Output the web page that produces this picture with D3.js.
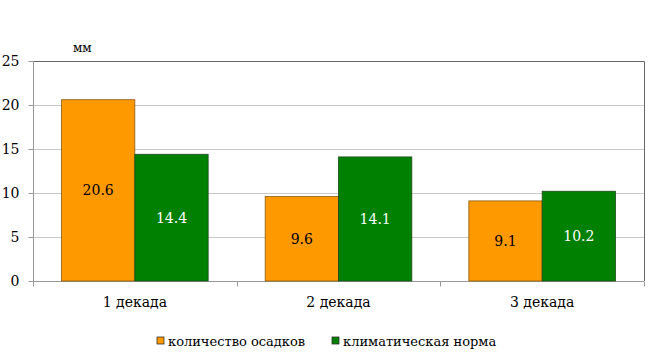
<!DOCTYPE html>
<html>
<head>
<meta charset="utf-8">
<script src="https://cdn.jsdelivr.net/npm/d3@7"></script>
<style>
body { margin: 0; background: #fff; }
</style>
</head>
<body>
<div id="chart"></div>
<script>
var categories = ["1 декада", "2 декада", "3 декада"];
var series_names = ["количество осадков", "климатическая норма"];
var precip = [20.6, 9.6, 9.1];
var norm = [14.4, 14.1, 10.2];
var y_ticks = [0, 5, 10, 15, 20, 25];
var colors = ["#FF9900", "#008000"];
var strokes = ["#8a5a10", "#1c4a1c"];
var label_colors = ["#000", "#fff"];

var width = 649, height = 364;
var plot_left = 33, plot_right = 644, plot_top = 61, plot_bottom = 281;
var serif = "DejaVu Serif";

var svg = d3.select("#chart").append("svg")
    .attr("width", width)
    .attr("height", height)
    .attr("font-family", serif);

var x = d3.scaleBand().domain(categories).range([plot_left, plot_right]).padding(0);
var y = d3.scaleLinear().domain([0, 25]).range([plot_bottom, plot_top]);

// grid lines
svg.append("g")
    .selectAll("line")
    .data(y_ticks.slice(1, 5))
    .enter()
    .append("line")
    .attr("x1", plot_left).attr("x2", plot_right)
    .attr("y1", function(d) { return Math.round(y(d)) + 0.5; })
    .attr("y2", function(d) { return Math.round(y(d)) + 0.5; })
    .attr("stroke", "#c8c8c8");

// frame top and right
svg.append("path")
    .attr("d", "M" + plot_left + "," + (Math.round(y(25)) + 0.5) + "H" + (plot_right + 0.5) + "V" + plot_bottom)
    .attr("fill", "none")
    .attr("stroke", "#666");

// y axis
var yAxis = svg.append("g")
    .attr("transform", "translate(" + (plot_left + 0.5) + ",0)")
    .call(d3.axisLeft(y).tickValues(y_ticks).tickSize(5).tickPadding(9))
    .attr("font-family", serif)
    .attr("font-size", 14);
yAxis.selectAll("line").attr("stroke", "#999");
yAxis.select(".domain").attr("stroke", "#999").attr("d", "M0," + y(25) + "V" + plot_bottom);
yAxis.selectAll("text").attr("fill", "#000");

// x axis
var xAxis = svg.append("g")
    .attr("transform", "translate(0," + (plot_bottom + 0.5) + ")")
    .call(d3.axisBottom(x).tickSize(0).tickPadding(16))
    .attr("font-family", serif)
    .attr("font-size", 14);
xAxis.select(".domain").attr("stroke", "#999").attr("d", "M" + plot_left + ",0H" + plot_right);
xAxis.selectAll("text").attr("fill", "#000");
// tick marks between categories
xAxis.append("g")
    .selectAll("line")
    .data(categories)
    .enter()
    .append("line")
    .attr("x1", function(d) { return Math.round(x(d) + x.bandwidth()) + 0.5; })
    .attr("x2", function(d) { return Math.round(x(d) + x.bandwidth()) + 0.5; })
    .attr("y1", 0).attr("y2", 5)
    .attr("stroke", "#999");
xAxis.append("line")
    .attr("x1", plot_left + 0.5).attr("x2", plot_left + 0.5)
    .attr("y1", 0).attr("y2", 5)
    .attr("stroke", "#999");

// bars
var bw = x.bandwidth() * 0.36;
var pad = (x.bandwidth() - 2 * bw) / 2;
var data = [precip, norm];

data.forEach(function(vals, s) {
    var g = svg.append("g");
    g.selectAll("rect")
        .data(vals)
        .enter()
        .append("rect")
        .attr("x", function(d, i) { return x(categories[i]) + pad + s * bw; })
        .attr("y", function(d) { return y(d); })
        .attr("width", bw)
        .attr("height", function(d) { return plot_bottom - y(d); })
        .attr("fill", colors[s])
        .attr("stroke", strokes[s])
        .attr("stroke-width", 0.8);
    g.selectAll("text")
        .data(vals)
        .enter()
        .append("text")
        .attr("x", function(d, i) { return x(categories[i]) + pad + s * bw + bw / 2; })
        .attr("y", function(d) { return (y(d) + plot_bottom) / 2 + 5; })
        .attr("text-anchor", "middle")
        .attr("font-size", "14px")
        .attr("fill", label_colors[s])
        .text(function(d) { return d.toFixed(1); });
});

// unit label
svg.append("text")
    .attr("x", 73)
    .attr("y", 52)
    .attr("font-size", "12px")
    .text("мм");

// legend
var legend_x = [157, 332];
var legend = svg.append("g")
    .selectAll("g")
    .data(series_names)
    .enter()
    .append("g")
    .attr("transform", function(d, i) { return "translate(" + legend_x[i] + ",337)"; });
legend.append("rect")
    .attr("width", 7).attr("height", 7)
    .attr("fill", function(d, i) { return colors[i]; })
    .attr("stroke", "#333")
    .attr("stroke-width", 0.8);
legend.append("text")
    .attr("x", 11)
    .attr("y", 9)
    .attr("font-size", "13px")
    .text(function(d) { return d; });
</script>
</body>
</html>
